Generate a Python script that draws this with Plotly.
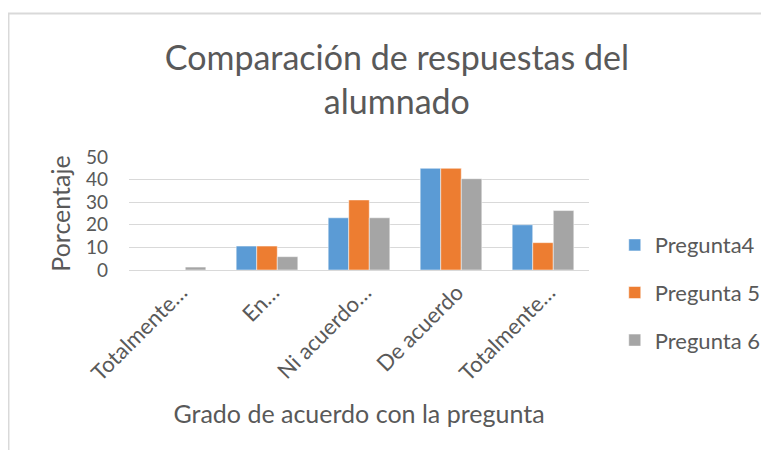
import plotly.graph_objects as go

# Categories (full names) and the truncated labels shown on the axis
categorias = ["Totalmente en desacuerdo", "En desacuerdo", "Ni acuerdo ni desacuerdo",
              "De acuerdo", "Totalmente de acuerdo"]
etiquetas = ["Totalmente…", "En…", "Ni acuerdo…", "De acuerdo", "Totalmente…"]

pregunta4 = [0, 10.6, 23.1, 45.0, 20.0]
pregunta5 = [0, 10.6, 31.0, 45.0, 12.1]
pregunta6 = [1.3, 5.9, 23.1, 40.4, 26.3]

series = [("Pregunta4", pregunta4, "#5b9bd5"),
          ("Pregunta 5", pregunta5, "#ed7d31"),
          ("Pregunta 6", pregunta6, "#a5a5a5")]

font = "Lato, 'Open Sans', sans-serif"

fig = go.Figure()
for i, (name, vals, color) in enumerate(series):
    fig.add_trace(go.Bar(x=categorias, y=vals, name=name, marker_color=color,
                         marker_line=dict(color="white", width=0.5),
                         legendgroup=str(i)))

# the page adds an 8px body margin, so the figure is 8px smaller each way
fig.update_layout(
    width=761, height=442,
    margin=dict(l=121, r=180, t=149, b=180, autoexpand=False),
    paper_bgcolor="white", plot_bgcolor="white",
    font=dict(family=font, color="#595959"),
    title=dict(text="Comparación de respuestas del<br>alumnado", x=0.511, xanchor="center",
               y=0.86, yanchor="top", font=dict(size=34, color="#595959")),
    barmode="group", bargap=0.33, bargroupgap=0,
    showlegend=True,
    legend=dict(x=1.056, y=-0.2, xanchor="left", yanchor="middle",
                font=dict(size=22, color="#595959"), tracegroupgap=16,
                itemwidth=30, traceorder="grouped"),
)
fig.update_xaxes(tickmode="array", tickvals=categorias, ticktext=etiquetas,
                 tickangle=-45, tickfont=dict(size=22), showgrid=False, automargin=False,
                 ticklabelshift=6,
                 showline=True, linecolor="#d9d9d9", linewidth=1,
                 title=dict(text="Grado de acuerdo con la pregunta", font=dict(size=25), standoff=20))
fig.update_yaxes(range=[0, 50], dtick=10, tickfont=dict(size=19), gridcolor="#d9d9d9",
                 zeroline=False, ticks="", ticklen=0, automargin=False, ticklabelstandoff=20,
                 title=dict(text="Porcentaje", font=dict(size=25), standoff=8))

# light chart border (left and top edges visible)
fig.add_shape(type="rect", xref="paper", yref="paper", x0=-0.262, x1=1.5, y0=-2.0, y1=2.27,
              line=dict(color="#d9d9d9", width=2))

fig.write_html("out.html")
